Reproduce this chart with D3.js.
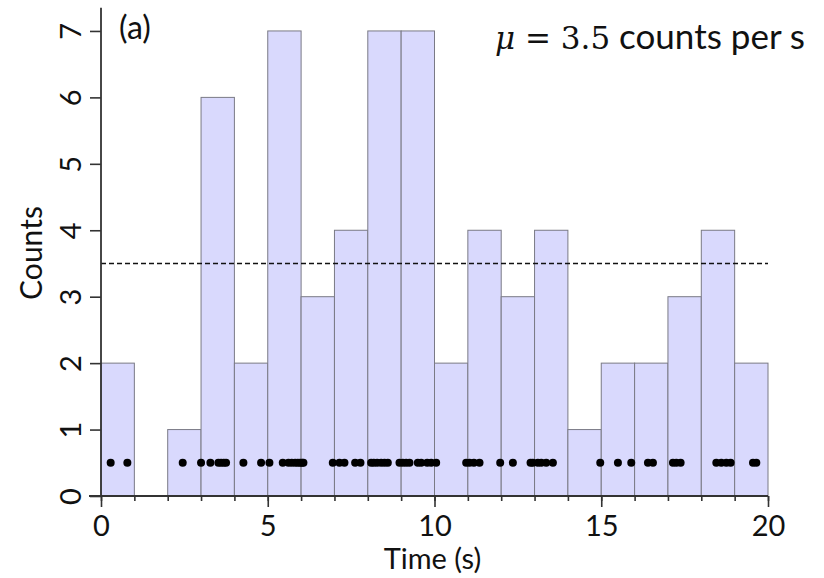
<!DOCTYPE html>
<html><head><meta charset="utf-8">
<script src="https://cdn.jsdelivr.net/npm/d3@7"></script>
<style>body{margin:0;background:#fff}svg{display:block}text{font-family:Lato,"Open Sans",sans-serif;fill:#111}</style>
</head><body><svg id="c" width="824" height="578"></svg>
<script>
const binStarts = [0,1,2,3,4,5,6,7,8,9,10,11,12,13,14,15,16,17,18,19];
const counts = [2,0,1,6,2,7,3,4,7,7,2,4,3,4,1,2,2,3,4,2];
const eventTimes = [0.29,0.79,2.45,3.0,3.28,3.52,3.6,3.68,3.75,4.27,4.8,5.05,5.45,5.62,5.72,5.82,5.9,5.97,6.03,6.07,6.95,7.15,7.3,7.62,7.78,8.1,8.18,8.28,8.4,8.5,8.6,8.95,9.05,9.15,9.25,9.5,9.6,9.78,9.9,10.05,10.95,11.05,11.18,11.35,11.97,12.35,12.88,12.95,13.1,13.2,13.35,13.55,14.97,15.5,15.9,16.4,16.55,17.15,17.25,17.38,18.45,18.6,18.75,18.88,19.55,19.65];
const meanRate = 3.5;
const xTicks = [0,5,10,15,20];
const yTicks = [0,1,2,3,4,5,6,7];

const FS = 29;
const svg = d3.select("#c");
const x = d3.scaleLinear().domain([0,20]).range([101,768]);
const y = d3.scaleLinear().domain([0,7.35]).range([496,7.7]);

// bars
svg.append("g").selectAll("rect").data(binStarts.map((s,i)=>({s,c:counts[i]}))).join("rect")
  .attr("x",d=>x(d.s)).attr("width",d=>x(d.s+1)-x(d.s))
  .attr("y",d=>y(d.c)).attr("height",d=>y(0)-y(d.c))
  .attr("fill",d=>d.c>0?"#d9d9fd":"none").attr("stroke",d=>d.c>0?"#7a7a85":"none").attr("stroke-width",1);

// dashed mean line
svg.append("line").attr("x1",x(0)).attr("x2",x(20)).attr("y1",y(meanRate)).attr("y2",y(meanRate))
  .attr("stroke","#111").attr("stroke-width",1.3).attr("stroke-dasharray","5,3");

// dots
svg.append("g").selectAll("circle").data(eventTimes).join("circle")
  .attr("cx",d=>x(d)).attr("cy",y(0.5)).attr("r",4).attr("fill","#000");

// x axis
const xa = svg.append("g").attr("transform",`translate(0,${y(0)})`);
xa.call(d3.axisBottom(x).tickValues(d3.range(0,21)).tickSize(5).tickFormat(""))
  .call(g=>g.select(".domain").remove());
xa.append("g").call(d3.axisBottom(x).tickValues(xTicks).tickSize(11).tickFormat(d3.format("d")))
  .call(g=>g.select(".domain").remove());
xa.selectAll("line").attr("stroke","#333").attr("stroke-width",1.6);
xa.selectAll("text").attr("font-size",FS).attr("dy",null).attr("y",40).attr("fill","#111")
  .style("font-family","Lato,'Open Sans',sans-serif");
xa.append("line").attr("x1",89).attr("x2",x(20)).attr("stroke","#333").attr("stroke-width",1.8);

// y axis
const ya = svg.append("g").attr("transform",`translate(${x(0)},0)`);
ya.call(d3.axisLeft(y).tickValues(yTicks).tickSize(11).tickFormat(d3.format("d")))
  .call(g=>g.select(".domain").remove());
ya.selectAll("line").attr("stroke","#333").attr("stroke-width",1.6);
ya.selectAll(".tick text").attr("x",null).attr("dy",null).attr("text-anchor","middle")
  .attr("transform","translate(-20,0) rotate(-90)").attr("font-size",FS).attr("fill","#111")
  .style("font-family","Lato,'Open Sans',sans-serif");
ya.append("line").attr("y1",y(0)).attr("y2",y(7.35)).attr("stroke","#333").attr("stroke-width",1.8);

// labels
svg.append("text").attr("x",x(10)-2).attr("y",569).attr("text-anchor","middle").attr("font-size",FS).text("Time (s)");
svg.append("text").attr("transform","translate(42,253) rotate(-90)").attr("text-anchor","middle").attr("font-size",30).text("Counts");
svg.append("text").attr("x",119).attr("y",39).attr("font-size",32).text("(a)");
const t = svg.append("text").attr("x",495).attr("y",49).attr("font-size",35);
t.append("tspan").attr("font-family","'DejaVu Serif',serif").attr("font-style","italic").attr("font-size",31).text("μ");
t.append("tspan").attr("font-family","'DejaVu Serif',serif").attr("font-size",31).text(" = 3.5");
t.append("tspan").text(" counts per s");
</script></body></html>
